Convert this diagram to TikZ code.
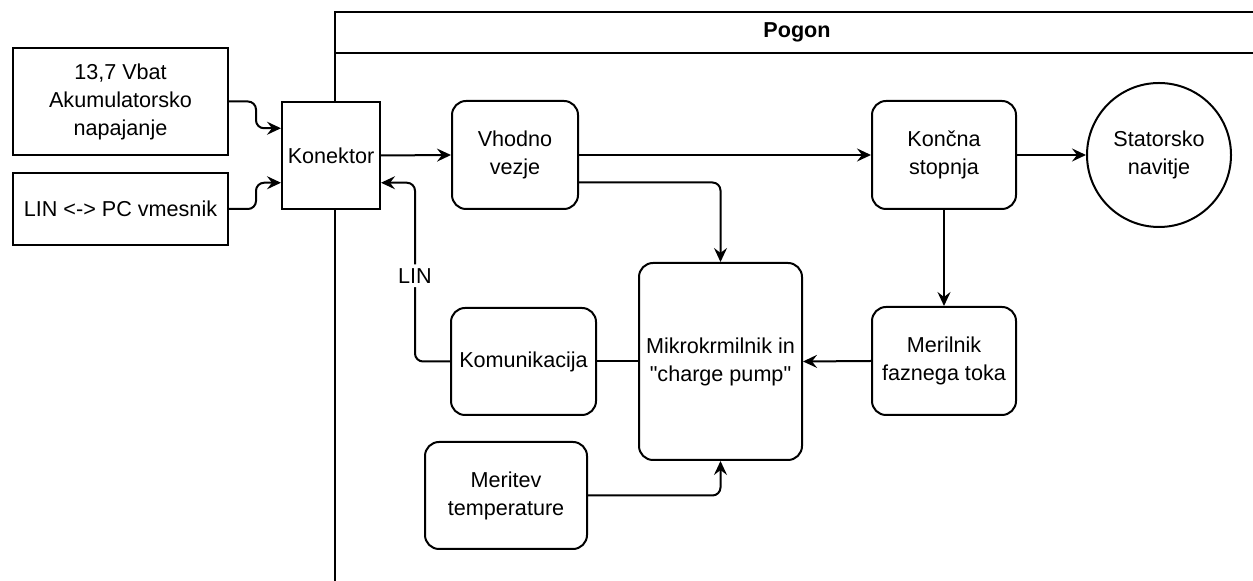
\documentclass[tikz,border=0pt]{standalone}
\usepackage{fontspec}
\setmainfont{Liberation Sans}
\newfontfamily\pisava{Liberation Sans}
\usetikzlibrary{arrows.meta,calc}

\begin{document}
\begin{tikzpicture}[x=0.5pt, y=-0.5pt, line width=1pt,
    >={Stealth[length=7pt,width=6.5pt,inset=2.5pt]},
    every node/.style={font=\pisava\fontsize{10.8}{14}\selectfont, align=center, inner sep=0pt},
    blok/.style={draw, fill=white, rounded corners=7pt},
    kvadrat/.style={draw, fill=white},
    vezava/.style={->, rounded corners=4pt}]
    \useasboundingbox (0,0) rectangle (1253,581);

    \draw (335,12) rectangle (1260,600);
    \draw (335,53) -- (1260,53);
    \node (pogon) at (797,32.5) {\bfseries Pogon};

    \node[kvadrat, minimum width=107.5pt, minimum height=53.5pt] (vbat) at (120.5,101.5) {13,7 Vbat\\Akumulatorsko\\napajanje};
    \node[kvadrat, minimum width=107.5pt, minimum height=36pt] (linpc) at (120.5,209) {LIN <-> PC vmesnik};
    \node[kvadrat, minimum width=49pt, minimum height=53.5pt] (kon) at (331,155.5) {Konektor};
    \node[blok, minimum width=63pt, minimum height=54pt] (vhod) at (515,155) {Vhodno\\vezje};
    \node[blok, minimum width=72pt, minimum height=54pt] (konc) at (944,155) {Končna\\stopnja};
    \node[circle, draw, fill=white, minimum size=72pt] (stator) at (1159,155) {Statorsko\\navitje};
    \node[blok, minimum width=72pt, minimum height=54pt] (meril) at (944,361) {Merilnik\\faznega toka};
    \node[blok, minimum width=81.5pt, minimum height=98.5pt] (mikro) at (720.5,361.5) {Mikrokrmilnik in\\"charge pump"};
    \node[blok, minimum width=72.5pt, minimum height=53.5pt] (komun) at (523.5,361.5) {Komunikacija};
    \node[blok, minimum width=81pt, minimum height=53.5pt] (merit) at (506,495.5) {Meritev\\temperature};

    \draw[vezava] (vbat.east) -- ++(27,0) |- ($(kon.north west)!0.25!(kon.south west)$);
    \draw[vezava] (linpc.east) -- ++(27,0) |- ($(kon.north west)!0.75!(kon.south west)$);
    \draw[->] (kon.east) -- (vhod.west);
    \draw[->] (vhod.east) -- (konc.west);
    \draw[->] (konc.east) -- (stator.west);
    \draw[->] (konc.south) -- (meril.north);
    \draw[->] (meril.west) -- (mikro.east);
    \draw[vezava] ($(vhod.north east)!0.75!(vhod.south east)$) -| (mikro.north);
    \draw[vezava] (merit.east) -| (mikro.south);
    \draw (komun.east) -- (mikro.west);
    \draw[vezava] (komun.west) -- ++(-35,0) |- ($(kon.north east)!0.75!(kon.south east)$) node[pos=0.24, fill=white, inner sep=2pt] (lin) {LIN};
\end{tikzpicture}
\end{document}
